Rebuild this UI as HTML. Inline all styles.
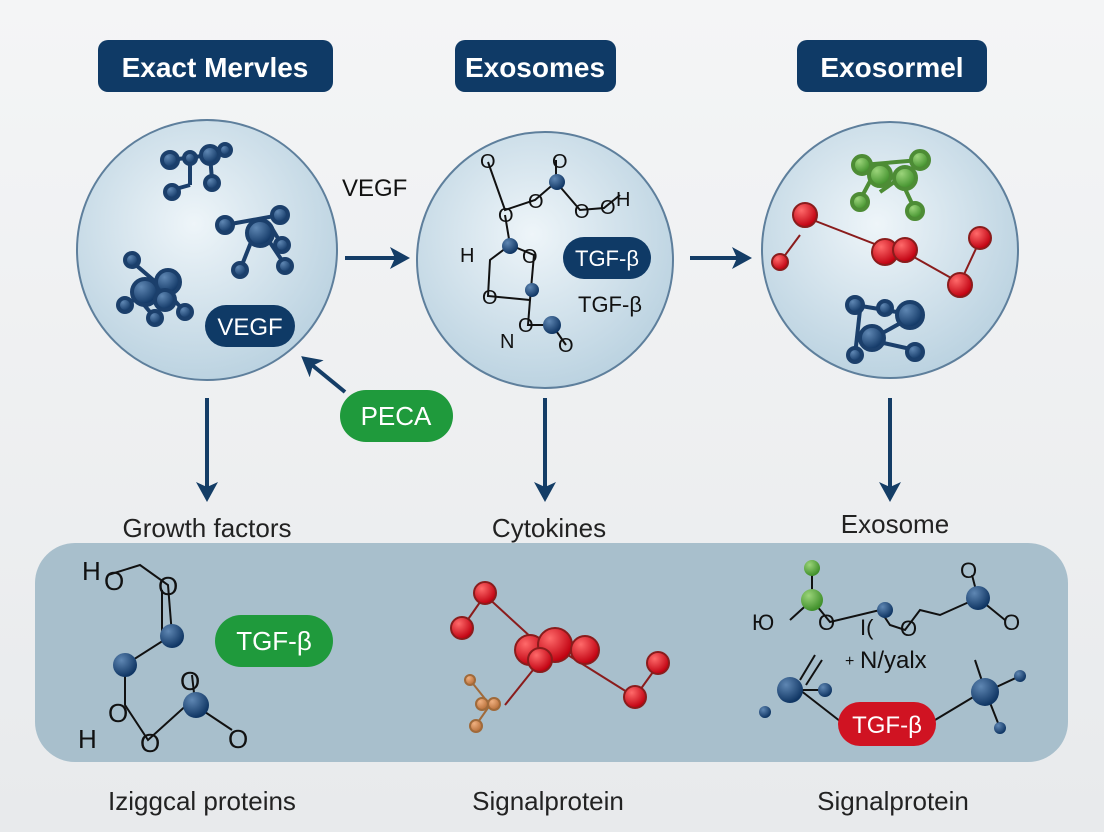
<!DOCTYPE html>
<html><head><meta charset="utf-8"><style>
html,body{margin:0;padding:0;width:1104px;height:832px;overflow:hidden;background:#eef0f2}
svg{display:block}
text{font-family:"Liberation Sans",sans-serif}
</style></head><body>
<svg width="1104" height="832" viewBox="0 0 1104 832">
<defs>
<radialGradient id="cg" cx="45%" cy="40%" r="60%"><stop offset="0" stop-color="#eef5f9"/><stop offset="1" stop-color="#bcd3e1"/></radialGradient>
<radialGradient id="bb" cx="35%" cy="30%" r="70%"><stop offset="0" stop-color="#5f87b3"/><stop offset="1" stop-color="#0f3563"/></radialGradient>
<radialGradient id="rb" cx="35%" cy="30%" r="70%"><stop offset="0" stop-color="#ff6a6a"/><stop offset="1" stop-color="#c00010"/></radialGradient>
<radialGradient id="gb" cx="35%" cy="30%" r="70%"><stop offset="0" stop-color="#9bd47a"/><stop offset="1" stop-color="#3f8f2a"/></radialGradient>
<radialGradient id="ob" cx="35%" cy="30%" r="70%"><stop offset="0" stop-color="#f0b080"/><stop offset="1" stop-color="#b8703a"/></radialGradient>
<linearGradient id="bg" x1="0" y1="0" x2="0" y2="1"><stop offset="0" stop-color="#f4f5f6"/><stop offset="1" stop-color="#e8eaec"/></linearGradient>
<marker id="ah" markerWidth="20" markerHeight="22" refX="6" refY="11" orient="auto" markerUnits="userSpaceOnUse" viewBox="0 0 20 22"><path d="M0,0 L20,11 L0,22 L5,11 z" fill="#143d66"/></marker>
</defs>
<rect width="1104" height="832" fill="url(#bg)"/>

<rect x="98" y="40" width="235" height="52" rx="10" fill="#0f3a66"/>
<text x="215" y="77" text-anchor="middle" fill="#fff" font-size="28" font-weight="bold">Exact Mervles</text>
<rect x="455" y="40" width="161" height="52" rx="10" fill="#0f3a66"/>
<text x="535" y="77" text-anchor="middle" fill="#fff" font-size="28" font-weight="bold">Exosomes</text>
<rect x="797" y="40" width="190" height="52" rx="10" fill="#0f3a66"/>
<text x="892" y="77" text-anchor="middle" fill="#fff" font-size="28" font-weight="bold">Exosormel</text>

<circle cx="207" cy="250" r="130" fill="url(#cg)" stroke="#5e7f9c" stroke-width="2"/>
<circle cx="545" cy="260" r="128" fill="url(#cg)" stroke="#5e7f9c" stroke-width="2"/>
<circle cx="890" cy="250" r="128" fill="url(#cg)" stroke="#5e7f9c" stroke-width="2"/>

<g stroke="#1b3f6b" stroke-width="4" fill="url(#bb)">
<line x1="170" y1="160" x2="210" y2="155"/><line x1="190" y1="158" x2="190" y2="185"/><line x1="210" y1="155" x2="212" y2="180"/><line x1="190" y1="185" x2="172" y2="190"/><line x1="210" y1="155" x2="225" y2="150"/>
<circle cx="170" cy="160" r="8"/><circle cx="210" cy="155" r="9"/><circle cx="190" cy="158" r="6"/><circle cx="212" cy="183" r="7"/><circle cx="172" cy="192" r="7"/><circle cx="225" cy="150" r="6"/>
<line x1="225" y1="225" x2="280" y2="215"/><line x1="255" y1="232" x2="240" y2="270"/><line x1="265" y1="235" x2="285" y2="265"/><line x1="270" y1="225" x2="282" y2="245"/>
<circle cx="225" cy="225" r="8"/><circle cx="260" cy="233" r="13"/><circle cx="280" cy="215" r="8"/><circle cx="240" cy="270" r="7"/><circle cx="285" cy="266" r="7"/><circle cx="282" cy="245" r="7"/>
<line x1="130" y1="260" x2="165" y2="290"/><line x1="125" y1="305" x2="170" y2="280"/><line x1="165" y1="290" x2="185" y2="312"/><line x1="140" y1="300" x2="155" y2="318"/>
<circle cx="132" cy="260" r="7"/><circle cx="145" cy="292" r="13"/><circle cx="168" cy="282" r="12"/><circle cx="125" cy="305" r="7"/><circle cx="185" cy="312" r="7"/><circle cx="155" cy="318" r="7"/><circle cx="165" cy="300" r="10"/>
</g>
<rect x="205" y="305" width="90" height="42" rx="21" fill="#0f3a66"/>
<text x="250" y="335" text-anchor="middle" fill="#fff" font-size="24">VEGF</text>

<g stroke="#111" stroke-width="2" fill="none">
<polyline points="488,162 505,210 535,200 556,182 580,210 604,208 620,195"/>
<polyline points="505,215 510,245 490,260 488,296 530,300 534,255 510,245"/>
<polyline points="530,300 528,325 552,325 566,345"/>
<line x1="556" y1="182" x2="556" y2="160"/>
</g>
<g font-size="20" fill="#111">
<text x="480" y="168">O</text><text x="498" y="222">O</text><text x="528" y="208">O</text><text x="552" y="168">O</text><text x="574" y="218">O</text><text x="600" y="214">O</text><text x="616" y="206">H</text>
<text x="460" y="262">H</text><text x="482" y="304">O</text><text x="522" y="263">O</text><text x="500" y="348">N</text><text x="518" y="332">O</text><text x="558" y="352">O</text>
</g>
<g fill="url(#bb)"><circle cx="557" cy="182" r="8"/><circle cx="510" cy="246" r="8"/><circle cx="532" cy="290" r="7"/><circle cx="552" cy="325" r="9"/></g>
<rect x="563" y="237" width="88" height="42" rx="21" fill="#0f3a66"/>
<text x="607" y="266" text-anchor="middle" fill="#fff" font-size="22">TGF-β</text>
<text x="578" y="312" fill="#111" font-size="22">TGF-β</text>
<text x="342" y="196" fill="#111" font-size="24">VEGF</text>

<g stroke="#4d8c35" stroke-width="4" fill="url(#gb)">
<line x1="862" y1="165" x2="920" y2="160"/><line x1="875" y1="172" x2="860" y2="200"/><line x1="900" y1="178" x2="915" y2="210"/><line x1="900" y1="178" x2="880" y2="192"/>
<circle cx="862" cy="165" r="9"/><circle cx="920" cy="160" r="9"/><circle cx="880" cy="175" r="11"/><circle cx="905" cy="178" r="11"/><circle cx="860" cy="202" r="8"/><circle cx="915" cy="211" r="8"/>
</g>
<g stroke="#8a1c1c" stroke-width="2" fill="url(#rb)">
<line x1="800" y1="235" x2="780" y2="262"/><line x1="800" y1="215" x2="890" y2="250"/><line x1="905" y1="252" x2="960" y2="283"/><line x1="960" y1="283" x2="980" y2="240"/>
<circle cx="805" cy="215" r="12"/><circle cx="780" cy="262" r="8"/><circle cx="885" cy="252" r="13"/><circle cx="905" cy="250" r="12"/><circle cx="960" cy="285" r="12"/><circle cx="980" cy="238" r="11"/>
</g>
<g stroke="#1b3f6b" stroke-width="4" fill="url(#bb)">
<line x1="855" y1="305" x2="915" y2="315"/><line x1="870" y1="340" x2="915" y2="315"/><line x1="870" y1="340" x2="915" y2="350"/><line x1="860" y1="310" x2="855" y2="355"/>
<circle cx="855" cy="305" r="8"/><circle cx="910" cy="315" r="13"/><circle cx="872" cy="338" r="12"/><circle cx="915" cy="352" r="8"/><circle cx="855" cy="355" r="7"/><circle cx="885" cy="308" r="7"/>
</g>

<g stroke="#143d66" stroke-width="4" marker-end="url(#ah)">
<line x1="345" y1="258" x2="396" y2="258"/>
<line x1="690" y1="258" x2="738" y2="258"/>
<line x1="207" y1="398" x2="207" y2="488"/>
<line x1="545" y1="398" x2="545" y2="488"/>
<line x1="890" y1="398" x2="890" y2="488"/>
<line x1="345" y1="392" x2="312" y2="365"/>
</g>
<rect x="340" y="390" width="113" height="52" rx="26" fill="#1f9a3c"/>
<text x="396" y="425" text-anchor="middle" fill="#fff" font-size="26">PECA</text>

<g font-size="26" fill="#222" text-anchor="middle">
<text x="207" y="537">Growth factors</text>
<text x="549" y="537">Cytokines</text>
<text x="895" y="533">Exosome</text>
<text x="202" y="810">Iziggcal proteins</text>
<text x="548" y="810">Signalprotein</text>
<text x="893" y="810">Signalprotein</text>
</g>

<rect x="35" y="543" width="1033" height="219" rx="40" fill="#a8bfcc"/>

<g stroke="#111" stroke-width="2" fill="none">
<polyline points="108,575 140,565 168,585 172,635 125,665 125,705 148,740 190,702 232,730"/>
<line x1="162" y1="590" x2="162" y2="632"/><line x1="195" y1="702" x2="192" y2="675"/>
</g>
<g font-size="26" fill="#111"><text x="82" y="580">H</text><text x="104" y="590">O</text><text x="158" y="595">O</text><text x="108" y="722">O</text><text x="78" y="748">H</text><text x="140" y="752">O</text><text x="180" y="690">O</text><text x="228" y="748">O</text></g>
<g fill="url(#bb)"><circle cx="172" cy="636" r="12"/><circle cx="125" cy="665" r="12"/><circle cx="196" cy="705" r="13"/></g>
<rect x="215" y="615" width="118" height="52" rx="26" fill="#1f9a3c"/>
<text x="274" y="650" text-anchor="middle" fill="#fff" font-size="26">TGF-β</text>

<g stroke="#8a1c1c" stroke-width="2" fill="url(#rb)">
<line x1="462" y1="628" x2="485" y2="595"/><line x1="485" y1="595" x2="545" y2="650"/><line x1="560" y1="650" x2="635" y2="697"/><line x1="635" y1="697" x2="658" y2="665"/><line x1="545" y1="655" x2="505" y2="705"/>
<circle cx="462" cy="628" r="11"/><circle cx="485" cy="593" r="11"/><circle cx="530" cy="650" r="15"/><circle cx="555" cy="645" r="17"/><circle cx="585" cy="650" r="14"/><circle cx="540" cy="660" r="12"/><circle cx="635" cy="697" r="11"/><circle cx="658" cy="663" r="11"/>
</g>
<g stroke="#a06a3a" stroke-width="2" fill="url(#ob)">
<line x1="470" y1="680" x2="490" y2="705"/><line x1="490" y1="705" x2="476" y2="725"/>
<circle cx="470" cy="680" r="5"/><circle cx="482" cy="704" r="6"/><circle cx="494" cy="704" r="6"/><circle cx="476" cy="726" r="6"/>
</g>

<g stroke="#111" stroke-width="2" fill="none">
<polyline points="790,620 812,600 830,622 880,610 890,625 905,630 920,610 940,615 978,598 1005,620"/>
<line x1="812" y1="600" x2="812" y2="570"/><line x1="978" y1="598" x2="972" y2="575"/>
<line x1="790" y1="690" x2="825" y2="690"/><line x1="800" y1="680" x2="815" y2="655"/><line x1="806" y1="685" x2="822" y2="660"/>
<line x1="990" y1="690" x2="1020" y2="676"/><line x1="985" y1="690" x2="975" y2="660"/><line x1="985" y1="690" x2="1000" y2="728"/>
<line x1="800" y1="690" x2="845" y2="725"/><line x1="935" y1="720" x2="985" y2="690"/>
</g>
<g fill="url(#gb)"><circle cx="812" cy="600" r="11"/><circle cx="812" cy="568" r="8"/></g>
<g fill="url(#bb)"><circle cx="885" cy="610" r="8"/><circle cx="978" cy="598" r="12"/><circle cx="790" cy="690" r="13"/><circle cx="825" cy="690" r="7"/><circle cx="765" cy="712" r="6"/><circle cx="985" cy="692" r="14"/><circle cx="1020" cy="676" r="6"/><circle cx="1000" cy="728" r="6"/></g>
<g font-size="22" fill="#111"><text x="752" y="630">Ю</text><text x="818" y="630">O</text><text x="860" y="635">I(</text><text x="900" y="636">O</text><text x="960" y="578">O</text><text x="1003" y="630">O</text></g>
<text x="845" y="666" font-size="16" fill="#111">+</text>
<text x="860" y="668" font-size="24" fill="#111">N/yalx</text>
<rect x="838" y="702" width="98" height="44" rx="22" fill="#d01322"/>
<text x="887" y="733" text-anchor="middle" fill="#fff" font-size="24">TGF-β</text>
</svg>
</body></html>
